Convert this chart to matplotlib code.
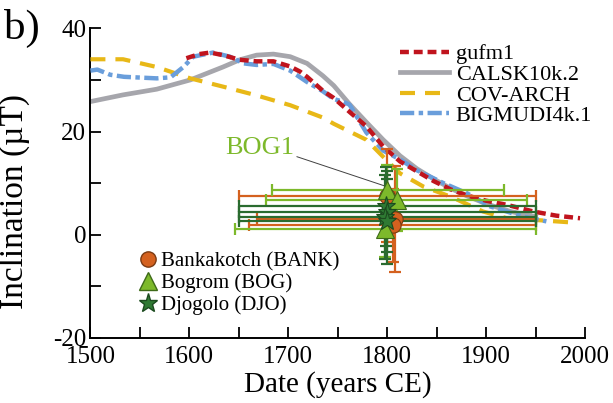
import matplotlib
matplotlib.use("Agg")
import matplotlib.pyplot as plt
from matplotlib.ticker import MultipleLocator
from matplotlib.lines import Line2D

plt.rcParams["font.family"] = ["Liberation Serif", "DejaVu Serif"]
plt.rcParams["axes.unicode_minus"] = False

# geomagnetic field model curves (year, inclination)
gufm1_year = [1597, 1610, 1621, 1634, 1651, 1668, 1685, 1702, 1712, 1719, 1735, 1746, 1762,
              1779, 1796, 1813, 1830, 1847, 1864, 1881, 1900, 1921, 1948, 1971, 1995]
gufm1_inc = [34.2, 35.0, 35.3, 34.8, 33.9, 33.6, 33.6, 32.6, 31.6, 30.6, 27.9, 26.5, 23.8,
             21.0, 17.1, 14.2, 12.3, 10.4, 8.8, 7.6, 6.6, 5.8, 4.5, 3.7, 3.2]

calsk_year = [1500, 1533, 1567, 1601, 1634, 1651, 1668, 1685, 1702, 1719, 1735, 1746, 1762,
              1779, 1796, 1813, 1830, 1847, 1864, 1881, 1900, 1925, 1950]
calsk_inc = [25.8, 27.1, 28.2, 30.0, 32.5, 33.9, 34.8, 35.0, 34.5, 33.2, 30.8, 28.9, 25.3,
             21.8, 18.4, 15.3, 12.8, 10.8, 9.0, 7.5, 6.0, 4.5, 3.5]

cov_year = [1500, 1533, 1567, 1601, 1634, 1668, 1702, 1735, 1746, 1779, 1796, 1813, 1837,
            1864, 1897, 1921, 1955, 1985]
cov_inc = [34.0, 34.0, 32.5, 30.3, 28.7, 27.0, 25.1, 22.7, 21.5, 18.4, 15.1, 11.9, 9.3,
           7.4, 4.5, 3.2, 2.8, 2.4]

bigmudi_year = [1500, 1507, 1520, 1534, 1567, 1581, 1594, 1604, 1624, 1641, 1655, 1668, 1685,
                1702, 1719, 1735, 1746, 1755, 1762, 1779, 1796, 1813, 1830, 1857, 1881, 1904,
                1938, 1961]
bigmudi_inc = [31.8, 32.0, 31.0, 30.6, 30.3, 30.5, 32.5, 34.5, 35.3, 34.5, 33.2, 32.9, 33.1,
               31.8, 29.6, 27.8, 26.3, 25.8, 25.2, 19.8, 16.3, 14.6, 12.5, 10.0, 8.0, 5.5,
               3.5, 2.6]

# archaeomagnetic results per site
bank_year = [1800, 1808, 1806]
bank_inc = [7.6, 3.0, 1.8]
bank_lo = [1650, 1668, 1660]
bank_hi = [1950, 1950, 1950]
bank_err = [9.0, 10.3, 7.0]

bog_year = [1800, 1810, 1798]
bog_inc = [8.6, 6.8, 1.2]
bog_lo = [1684, 1678, 1646]
bog_hi = [1918, 1941, 1950]
bog_err = [5.0, 6.0, 5.5]

djo_year = [1799, 1800, 1798, 1800]
djo_inc = [5.5, 4.5, 3.5, 2.6]
djo_lo = [1650, 1650, 1650, 1650]
djo_hi = [1950, 1950, 1950, 1950]
djo_err = [7.7, 7.9, 8.1, 8.2]

ORANGE = "#D4611F"
LGREEN = "#7DB92B"
DGREEN = "#2A6B2F"

fig = plt.figure(figsize=(6.13, 4.03), dpi=100)
ax = fig.add_axes([0.1475, 0.1613, 0.8068, 0.7685])

l1, = ax.plot(gufm1_year, gufm1_inc, color="#C0141E", lw=3.2, ls=(0, (2.0, 1.1)),
              label="gufm1", zorder=4)
l2, = ax.plot(calsk_year, calsk_inc, color="#A6A6AC", lw=3.4, label="CALSK10k.2", zorder=2)
l3, = ax.plot(cov_year, cov_inc, color="#E8B817", lw=3.0, ls=(0, (3.6, 2.4)),
              label="COV-ARCH", zorder=3)
l4, = ax.plot(bigmudi_year, bigmudi_inc, color="#6A9EDB", lw=3.2,
              ls=(0, (3.2, 1.0, 1.0, 1.0)), label="BIGMUDI4k.1", zorder=3)


def _site(years, incs, lo, hi, err, color, marker, ms, mfc, mec):
    xerr = [[y - a for y, a in zip(years, lo)], [b - y for y, b in zip(years, hi)]]
    ax.errorbar(years, incs, xerr=xerr, yerr=err, fmt="none", ecolor=color,
                elinewidth=1.6, capsize=4, capthick=1.6, zorder=5)
    ax.plot(years, incs, ls="none", marker=marker, ms=ms, mfc=mfc, mec=mec,
            mew=0.8, zorder=6)


_site(bank_year, bank_inc, bank_lo, bank_hi, bank_err, ORANGE, "o", 11, ORANGE, "#7A3A12")
_site(bog_year, bog_inc, bog_lo, bog_hi, bog_err, LGREEN, "^", 13, LGREEN, "#3E6A18")
_site(djo_year, djo_inc, djo_lo, djo_hi, djo_err, DGREEN, "*", 14, "#2F7A33", "#1B4A1E")

ax.annotate("BOG1", xy=(1800, 9.3), xytext=(1671, 16.8), color=LGREEN, fontsize=19,
            ha="center", va="center",
            arrowprops=dict(arrowstyle="-", color="#404040", lw=0.7,
                            shrinkA=0, shrinkB=0, relpos=(1.0, 0.15)))

ax.set_xlim(1500, 2000)
ax.set_ylim(-20, 40)
ax.xaxis.set_major_locator(MultipleLocator(100))
ax.xaxis.set_minor_locator(MultipleLocator(50))
ax.yaxis.set_major_locator(MultipleLocator(20))
ax.yaxis.set_minor_locator(MultipleLocator(10))
ax.tick_params(which="both", direction="in", width=1.3, labelsize=18)
ax.tick_params(which="major", length=8)
ax.tick_params(which="minor", length=8)
ax.tick_params(axis="x", pad=6)
ax.tick_params(axis="y", pad=3)
for s in ["top", "right"]:
    ax.spines[s].set_visible(False)
for s in ["left", "bottom"]:
    ax.spines[s].set_linewidth(1.4)
ax.set_xlabel("Date (years CE)", fontsize=21, labelpad=2)
ax.set_ylabel("Inclination (µT)", fontsize=24)
ax.yaxis.set_label_coords(-0.122, 0.44)

leg1 = ax.legend(handles=[l1, l2, l3, l4], loc="upper left", bbox_to_anchor=(0.595, 1.0),
                 frameon=False, fontsize=16, handlelength=2.2, handletextpad=0.3,
                 labelspacing=0.0, borderpad=0.2)
ax.add_artist(leg1)

site_handles = [
    Line2D([], [], ls="none", marker="o", ms=11, mfc=ORANGE, mec="#7A3A12",
           label="Bankakotch (BANK)"),
    Line2D([], [], ls="none", marker="^", ms=13, mfc=LGREEN, mec="#3E6A18",
           label="Bogrom (BOG)"),
    Line2D([], [], ls="none", marker="*", ms=14, mfc="#2F7A33", mec="#1B4A1E",
           label="Djogolo (DJO)"),
]
ax.legend(handles=site_handles, loc="upper left", bbox_to_anchor=(0.071, 0.325),
          frameon=False, fontsize=15, handlelength=0.8, handletextpad=0.2,
          labelspacing=0.1, borderpad=0.2)

fig.text(0.006, 0.93, "b)", fontsize=31, va="center", ha="left")

fig.savefig("out.png", dpi=100, facecolor="white")
